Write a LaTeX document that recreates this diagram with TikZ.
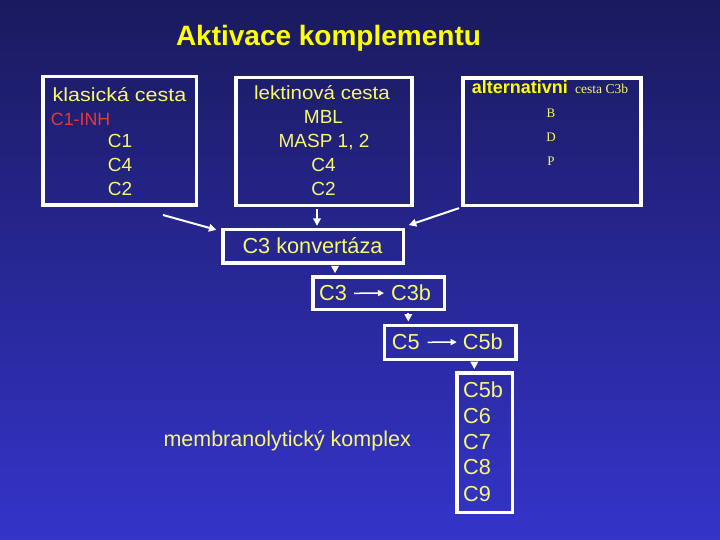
\documentclass[tikz,border=0pt]{standalone}
\usepackage{fontspec}
\setmainfont{Liberation Sans}
\newfontfamily\timesf{Liberation Serif}
\usetikzlibrary{arrows.meta}
\definecolor{bgtop}{HTML}{1A1A5E}
\definecolor{bgbot}{HTML}{3434CA}
\definecolor{ylw}{HTML}{F8F870}
\definecolor{ttl}{HTML}{FFFF00}
\definecolor{inh}{HTML}{E23A3A}
\begin{document}
\begin{tikzpicture}[x=1pt,y=-1pt,
  box/.style={draw=white,line width=3.6pt,inner sep=0pt},
  txt/.style={text=ylw,inner sep=0pt,font=\fontsize{19}{22}\selectfont},
  big/.style={text=ylw,inner sep=0pt,font=\fontsize{21.7}{25}\selectfont},
  ser/.style={text=ylw,inner sep=0pt,font=\timesf\fontsize{13}{15}\selectfont},
  arr/.style={draw=white,line width=2pt,-{Triangle[length=7.5pt,width=7.5pt]}},
  arrs/.style={draw=white,line width=1.5pt,-{Triangle[length=6pt,width=6pt]}}]
\shade[top color=bgtop,bottom color=bgbot] (0,0) rectangle (720,540);
\useasboundingbox (0,0) rectangle (720,540);

% title
\node[text=ttl,inner sep=0pt,font=\bfseries\fontsize{28}{32}\selectfont,anchor=base] (title) at (328.5,46) {Aktivace komplementu};

% boxes
\node[box,minimum width=153.7pt,minimum height=128.6pt] (b1) at (119.8,141) {};
\node[box,minimum width=176pt,minimum height=128pt] (b2) at (323.7,141.7) {};
\node[box,minimum width=178pt,minimum height=127.4pt] (b3) at (551.7,142) {};
\node[box,minimum width=180.7pt,minimum height=33.3pt] (b4) at (313.3,246.3) {};
\node[box,minimum width=131.7pt,minimum height=32.3pt] (b5) at (378.8,293.2) {};
\node[box,minimum width=131.3pt,minimum height=34pt] (b6) at (450.3,342.3) {};
\node[box,minimum width=55.7pt,minimum height=139.7pt] (b7) at (484.8,442.8) {};

% box 1 texts
\node[txt,anchor=base west] (k1) at (52.5,101.7) {\scalebox{1.13}[1]{klasická cesta}};
\node[txt,text=inh,font=\fontsize{17.8}{20}\selectfont,anchor=base west] (k2) at (50.7,125.2) {C1-INH};
\node[txt,anchor=base west] (k3) at (107.7,147.5) {C1};
\node[txt,anchor=base west] (k4) at (107.7,172) {C4};
\node[txt,anchor=base west] (k5) at (107.7,196) {C2};

% box 2 texts
\node[txt,anchor=base] (l1) at (322,99.3) {\scalebox{1.08}[1]{lektinová cesta}};
\node[txt,anchor=base] (l2) at (323.5,123.5) {MBL};
\node[txt,anchor=base] (l3) at (324,147.5) {MASP 1, 2};
\node[txt,anchor=base] (l4) at (323.5,172) {C4};
\node[txt,anchor=base] (l5) at (323.5,196) {C2};

% box 3 texts
\node[text=ttl,inner sep=0pt,font=\bfseries\fontsize{18}{20}\selectfont,anchor=base west] (m1) at (471.7,93.3) {alternativni};
\node[ser,font=\timesf\fontsize{13.5}{15}\selectfont,anchor=base west] (m2) at (575,93.3) {cesta C3b};
\node[ser] (m3) at (551,113.3) {B};
\node[ser] (m4) at (551,137.3) {D};
\node[ser] (m5) at (551,161) {P};

% lower texts
\node[big,anchor=base] (tk) at (312.5,253.3) {C3 konvertáza};
\node[big,anchor=base west] (c3) at (319,300.8) {C3};
\node[big,anchor=base west] (c3b) at (391,300.8) {C3b};
\node[big,anchor=base west] (c5) at (391.7,349.8) {C5};
\node[big,anchor=base west] (c5b) at (462.7,349.8) {C5b};
\node[big,anchor=base west] (d1) at (463,397.7) {C5b};
\node[big,anchor=base west] (d2) at (463,423.7) {C6};
\node[big,anchor=base west] (d3) at (463,449.4) {C7};
\node[big,anchor=base west] (d4) at (463,474.7) {C8};
\node[big,anchor=base west] (d5) at (463,501.7) {C9};
\node[big,font=\fontsize{21.5}{25}\selectfont,anchor=base west] (mk) at (163.3,446.7) {membranolytický komplex};

% connectors
\coordinate (a1s) at (163,215);
\coordinate (x2) at (317,0);
\coordinate (x4) at (335,0);
\coordinate (x5) at (408.3,0);
\coordinate (x6) at (474.3,0);
\draw[arr] (a1s) -- ([shift={(-4.7,2)}]b4.north west);
\draw[arr,shorten <=2pt,shorten >=2pt] (b2.south -| x2) -- (b4.north -| x2);
\draw[arr,shorten <=2pt] (b3.south west) -- ([shift={(3.3,-2.7)}]b4.north east);
\draw[arr,shorten <=2pt,shorten >=2pt] (b4.south -| x4) -- (b5.north -| x4);
\draw[arr,shorten <=2pt,shorten >=2pt] (b5.south -| x5) -- (b6.north -| x5);
\draw[arr,shorten <=2pt,shorten >=2pt] (b6.south -| x6) -- (b7.north -| x6);
\draw[arrs,shorten <=7pt,shorten >=7pt] (c3.east) -- (c3b.west);
\draw[arrs,shorten <=7.7pt,shorten >=6pt] (c5.east) -- (c5b.west);
\end{tikzpicture}
\end{document}
